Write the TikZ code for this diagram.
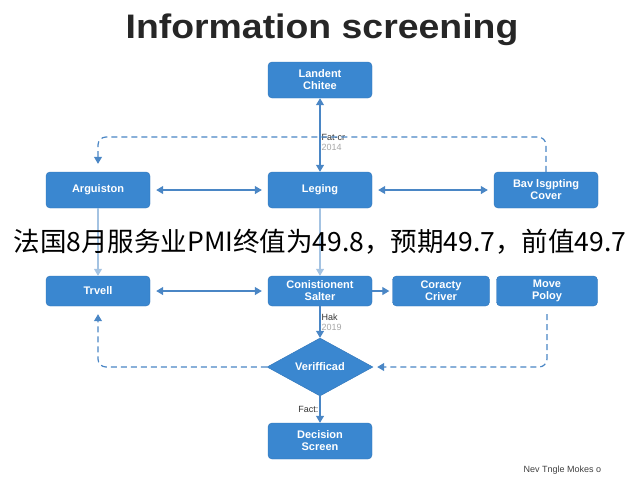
\documentclass[tikz,border=0pt]{standalone}
\usepackage{fontspec}
\setmainfont{Liberation Sans}
\newfontfamily\cjk{Noto Sans CJK SC}
\usetikzlibrary{shapes.geometric,arrows.meta}
\definecolor{bx}{HTML}{3A87D0}
\definecolor{bxd}{HTML}{2F74B8}
\definecolor{ln}{HTML}{4A86C5}
\begin{document}
\begin{tikzpicture}[x=1pt,y=-1pt,
 box/.style={draw=bxd,fill=bx,rounded corners=4pt,minimum width=104pt,minimum height=36pt,text=white,font=\bfseries\fontsize{11}{12}\selectfont,align=center,inner sep=1pt},
 con/.style={ln,line width=1.2pt,-{Triangle[width=8pt,length=7pt]}},
 bi/.style={con,{Triangle[width=8pt,length=7pt]}-{Triangle[width=8pt,length=7pt]}},
 dsh/.style={con,dashed,dash pattern=on 6pt off 4pt,rounded corners=8pt},
 lab/.style={font=\fontsize{9}{10}\selectfont,align=left,inner sep=1pt,text=black!80}]
\useasboundingbox (0,0) rectangle (640,480);
\node[font=\bfseries\fontsize{34}{38}\selectfont,text=black!85,xscale=1.1] (title) at (322,30) {Information screening};
\node[box] (top) at (320,80) {Landent\\Chitee};
\node[box] (arg) at (98,190) {Arguiston};
\node[box] (leg) at (320,190) {Leging};
\node[box] (bav) at (546,190) {Bav lsgpting\\Cover};
\node[box,minimum height=30pt] (trv) at (98,291) {Trvell};
\node[box,minimum height=30pt] (con) at (320,291) {Conistionent\\Salter};
\node[box,minimum width=97pt,minimum height=30pt] (cor) at (441,291) {Coracty\\Criver};
\node[box,minimum width=101pt,minimum height=30pt] (mov) at (547,291) {Move\\Poloy};
\node[diamond,draw=bxd,fill=bx,text=white,font=\bfseries\fontsize{11}{12}\selectfont,minimum width=106pt,minimum height=58pt,inner sep=0pt,aspect=1.8] (ver) at (320,367) {Verifficad};
\node[box] (dec) at (320,441) {Decision\\Screen};
\draw[bi] (top) -- node[lab,right,pos=0.6]{Fat-cr\\{\color{gray!70}2014}} (leg);
\draw[bi] ([xshift=6pt]arg.east) -- ([xshift=-6pt]leg.west);
\draw[bi] ([xshift=6pt]leg.east) -- ([xshift=-6pt]bav.west);
\draw[dsh] (bav.north) |- (320,137) -| ([yshift=8pt]arg.north);
\draw[con,ln!50] (arg) -- (trv);
\draw[con,ln!50] (leg) -- (con);
\draw[bi] ([xshift=6pt]trv.east) -- ([xshift=-6pt]con.west);
\draw[con] (con) -- ([xshift=-3pt]cor.west);
\draw[con] (con) -- node[lab,right]{Hak\\{\color{gray!70}2019}} (ver);
\draw[dsh] ([yshift=-8pt]mov.south) |- ([xshift=4pt]ver.east);
\draw[dsh] (ver.west) -| ([yshift=-8pt]trv.south);
\draw[con] (ver) -- node[lab,left]{Fact:} (dec);
\node[font=\cjk\fontsize{26.5}{28}\selectfont,text=black,inner sep=0pt] (ov) at (320,242) {法国8月服务业PMI终值为49.8，预期49.7，前值49.7};
\node[font=\fontsize{9}{10}\selectfont,anchor=west,text=black!75] (ft) at (520,470) {Nev Tngle Mokes o};
\end{tikzpicture}
\end{document}
